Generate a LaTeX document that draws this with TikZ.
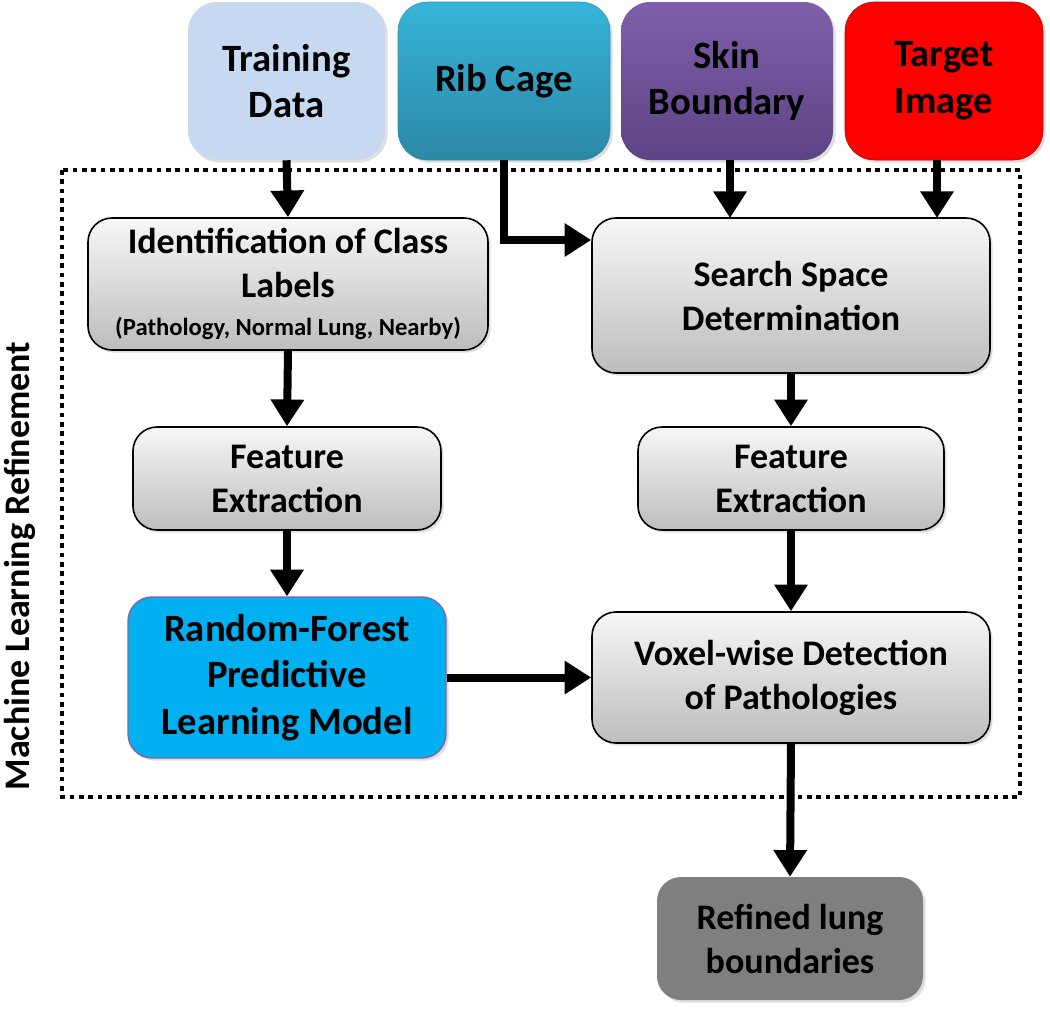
\documentclass[tikz,border=0pt]{standalone}
\usepackage{fontspec}
\setmainfont{Carlito}
\usetikzlibrary{arrows.meta,shadows}
\definecolor{tdfill}{HTML}{C6D9F1}
\definecolor{ribtop}{HTML}{36B4DA}
\definecolor{ribbot}{HTML}{2B88A5}
\definecolor{skintop}{HTML}{7F5FAA}
\definecolor{skinbot}{HTML}{5D4385}
\definecolor{tgtfill}{HTML}{FF0000}
\definecolor{tgtdraw}{HTML}{C00000}
\definecolor{rffill}{HTML}{00B0F0}
\definecolor{rfdraw}{HTML}{8064A2}
\definecolor{grytop}{HTML}{F7F7F7}
\definecolor{grybot}{HTML}{BDBDBD}
\definecolor{reffill}{HTML}{7F7F7F}
\tikzset{
  every node/.style={font=\bfseries},
  topbox/.style={rounded corners=22pt, align=center, inner sep=2pt,
     font=\fontsize{29}{35}\selectfont\bfseries,
     drop shadow={shadow xshift=2pt,shadow yshift=-2pt,opacity=0.25}},
  grybox/.style={rounded corners=18pt, align=center, inner sep=2pt, draw=black, line width=1.2pt,
     top color=grytop, bottom color=grybot,
     font=\fontsize{27}{33}\selectfont\bfseries,
     drop shadow={shadow xshift=2pt,shadow yshift=-2pt,opacity=0.25}},
  flow/.style={line width=6pt, -{Triangle[length=20pt,width=24pt]}},
}
\begin{document}
\begin{tikzpicture}[x=0.75pt,y=-0.75pt]
\useasboundingbox (0,0) rectangle (1050,1008);
% frame
\draw[line width=3pt, dash pattern=on 3.5pt off 3.5pt] (62,170) rectangle (1020,797);
% top boxes
\node[topbox, fill=tdfill, minimum width=147.75pt, minimum height=118.5pt] (td) at (286.5,81) {Training\\Data};
\node[topbox, top color=ribtop, bottom color=ribbot, draw=ribtop!80!black, minimum width=159pt, minimum height=118.5pt] (rib) at (504,81) {Rib Cage};
\node[topbox, top color=skintop, bottom color=skinbot, minimum width=159pt, minimum height=118.5pt] (skin) at (727,81) {Skin\\Boundary};
\node[topbox, fill=tgtfill, draw=tgtdraw, minimum width=148.5pt, minimum height=118.5pt] (tgt) at (944,81) {Target\\Image};
% inner boxes
\node[grybox, minimum width=300pt, minimum height=99pt] (ident) at (288,284) {Identification of Class\\Labels\\[-5pt]{\fontsize{18.5}{21}\selectfont (Pathology, Normal Lung, Nearby)}};
\node[grybox, minimum width=298.5pt, minimum height=116.25pt] (search) at (791,295.5) {Search Space\\Determination};
\node[grybox, minimum width=231pt, minimum height=77.25pt] (fel) at (287,478.5) {Feature\\Extraction};
\node[grybox, minimum width=229.5pt, minimum height=77.25pt] (fer) at (791,478.5) {Feature\\Extraction};
\node[topbox, rounded corners=18pt, fill=rffill, draw=rfdraw, line width=1pt, minimum width=238.5pt, minimum height=120.75pt, font=\fontsize{29}{35}\selectfont\bfseries] (rf) at (287,677.5) {Random-Forest\\Predictive\\Learning Model};
\node[grybox, minimum width=298.5pt, minimum height=98.25pt] (vox) at (791,677.5) {Voxel-wise Detection\\of Pathologies};
\node[topbox, rounded corners=18pt, fill=reffill, minimum width=199.5pt, minimum height=92.25pt, font=\fontsize{27}{33}\selectfont\bfseries] (ref) at (790,938.5) {Refined lung\\boundaries};
% side label
\node[rotate=90, font=\fontsize{27}{33}\selectfont\bfseries] (side) at (20,566) {Machine Learning Refinement};
% connectors
\draw[flow] (td.south) -- (ident.north);
\draw[flow] (rib.south) |- (search.west |- 0,240);
\draw[flow] (skin.south -| 730,0) -- (730,218);
\draw[flow] (tgt.south -| 937,0) -- (937,218);
\draw[flow] (ident.south) -- (fel.north);
\draw[flow] (search.south) -- (fer.north);
\draw[flow] (fel.south) -- (rf.north);
\draw[flow] (fer.south) -- (vox.north);
\draw[flow] (rf.east) -- (vox.west);
\draw[flow] (vox.south) -- (ref.north);
\end{tikzpicture}
\end{document}
